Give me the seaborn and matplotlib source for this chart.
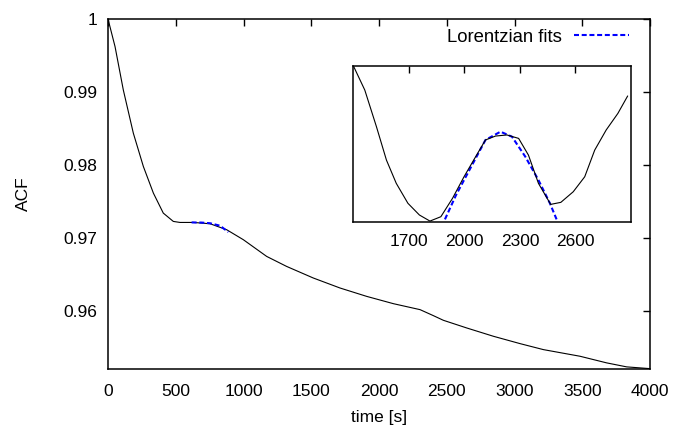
import matplotlib
matplotlib.use("Agg")
import matplotlib.pyplot as plt
import seaborn as sns
import pandas as pd
from matplotlib.lines import Line2D

# Main ACF curve
time_s = [0, 52, 113, 187, 261, 335, 408, 482, 531, 630, 753, 876, 999, 1171, 1318,
          1515, 1712, 1909, 2106, 2303, 2401, 2475, 2647, 2844, 3041, 3213, 3483,
          3680, 3828, 4000]
acf = [1.0, 0.99621, 0.99027, 0.98434, 0.97977, 0.97612, 0.97338, 0.97224, 0.97210,
       0.97210, 0.97192, 0.97110, 0.96973, 0.96744, 0.96607, 0.96448, 0.96311,
       0.96196, 0.96096, 0.96014, 0.95932, 0.95868, 0.95763, 0.95649, 0.95548,
       0.95466, 0.95375, 0.95284, 0.95229, 0.95205]

# Lorentzian fit on main curve
fit_time = [617, 690, 753, 827, 888]
fit_acf = [0.97210, 0.97208, 0.97199, 0.97165, 0.97078]

# Inset curve (arbitrary units)
ins_time = [1400, 1462, 1525, 1579, 1632, 1695, 1757, 1814, 1873, 1936, 1998, 2061,
            2114, 2168, 2230, 2293, 2346, 2400, 2466, 2521, 2588, 2650, 2704, 2766,
            2829, 2882]
ins_val = [1.0, 0.844, 0.609, 0.395, 0.246, 0.118, 0.043, 0.004, 0.032, 0.150, 0.288,
           0.417, 0.524, 0.549, 0.556, 0.534, 0.427, 0.246, 0.111, 0.124, 0.192,
           0.288, 0.459, 0.588, 0.694, 0.806]

# Inset Lorentzian fit
ins_fit_time = [1895, 1955, 2027, 2114, 2195, 2257, 2329, 2400, 2462, 2498]
ins_fit_val = [0.015, 0.171, 0.331, 0.524, 0.577, 0.545, 0.417, 0.267, 0.118, 0.015]

x_ticks = [0, 500, 1000, 1500, 2000, 2500, 3000, 3500, 4000]
y_ticks = [0.96, 0.97, 0.98, 0.99, 1.0]
y_ticklabels = ["0.96", "0.97", "0.98", "0.99", "1"]
inset_ticks = [1700, 2000, 2300, 2600]

FS = 12.5
DASH = (0, (2.4, 1.3))
BLUE = "#0000ff"

sns.set_style("white")
plt.rcParams['font.family'] = ['Liberation Sans', 'DejaVu Sans']
plt.rcParams['font.size'] = FS
for k in ["text.color", "axes.labelcolor", "xtick.color", "ytick.color",
          "xtick.labelcolor", "ytick.labelcolor", "axes.edgecolor"]:
    plt.rcParams[k] = "black"

fig = plt.figure(figsize=(6.77, 4.28), dpi=100)
ax = fig.add_axes([108/677, 1 - 369/428, (650 - 108)/677, (369 - 19)/428])

main_df = pd.DataFrame({"t": time_s, "acf": acf})
fit_df = pd.DataFrame({"t": fit_time, "acf": fit_acf})
sns.lineplot(data=main_df, x="t", y="acf", ax=ax, color="black", lw=0.8,
             estimator=None, sort=False)
sns.lineplot(data=fit_df, x="t", y="acf", ax=ax, color=BLUE, lw=1.5,
             linestyle=DASH, estimator=None, sort=False)

ax.set_xlim(0, 4000)
ax.set_ylim(0.952, 1.0)
ax.set_xticks(x_ticks)
ax.set_yticks(y_ticks)
ax.set_yticklabels(y_ticklabels)
ax.set_xlabel("time [s]", fontsize=FS, color="black")
ax.set_ylabel("ACF", fontsize=FS, color="black")
ax.xaxis.set_label_coords(0.5, -0.118)
ax.yaxis.set_label_coords(-0.142, 0.5)
ax.tick_params(direction="in", length=5, width=1, top=True, right=True,
               labelsize=FS, colors="black")
ax.tick_params(axis="x", pad=11)
ax.tick_params(axis="y", pad=8)
for s in ax.spines.values():
    s.set_linewidth(1.1)
    s.set_color("black")

# legend
h = Line2D([], [], color=BLUE, lw=1.5, linestyle=DASH)
leg = fig.legend([h], ["Lorentzian fits"], loc="center right",
                 bbox_to_anchor=(629/677, 1 - 37/428), frameon=False,
                 markerfirst=False, handlelength=3.0, handletextpad=0.65,
                 fontsize=13.3, borderpad=0, borderaxespad=0)
for t in leg.get_texts():
    t.set_color("black")

# inset
axi = fig.add_axes([353.3/677, 1 - 221.7/428, (631 - 353.3)/677, (221.7 - 65.7)/428])
ins_df = pd.DataFrame({"t": ins_time, "v": ins_val})
ins_fit_df = pd.DataFrame({"t": ins_fit_time, "v": ins_fit_val})
sns.lineplot(data=ins_fit_df, x="t", y="v", ax=axi, color=BLUE, lw=1.5,
             linestyle=DASH, estimator=None, sort=False)
sns.lineplot(data=ins_df, x="t", y="v", ax=axi, color="black", lw=0.8,
             estimator=None, sort=False)
axi.set_xlim(1400, 2900)
axi.set_ylim(0.0, 1.0)
axi.set_xticks(inset_ticks)
axi.set_yticks([])
axi.set_xlabel("")
axi.set_ylabel("")
axi.tick_params(direction="in", length=5, width=1, top=True, labelsize=FS, pad=9,
                colors="black")
for s in axi.spines.values():
    s.set_linewidth(1.1)
    s.set_color("black")

fig.savefig("out.png", dpi=100)
